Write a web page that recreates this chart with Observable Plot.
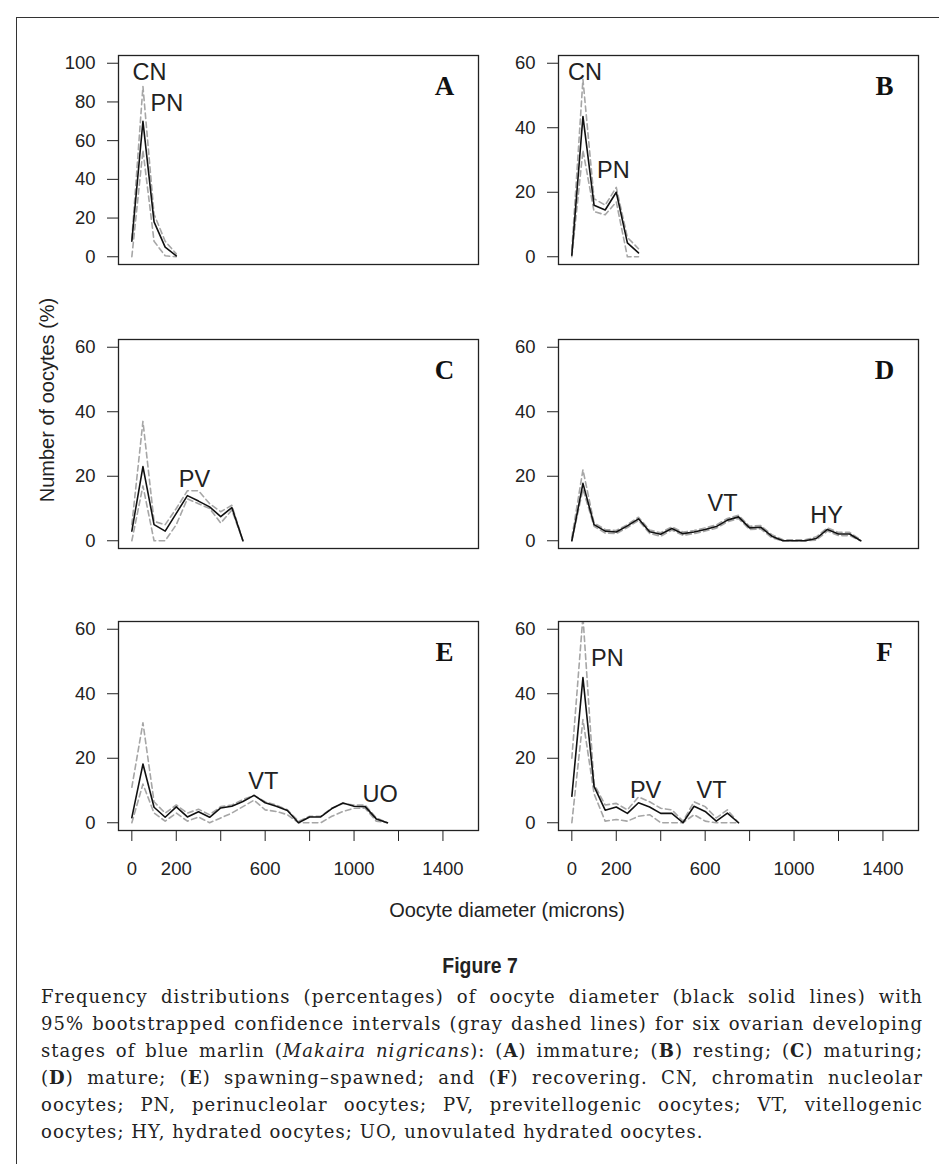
<!DOCTYPE html>
<html><head><meta charset="utf-8">
<script src="https://cdn.jsdelivr.net/npm/d3@7"></script>
<script src="https://cdn.jsdelivr.net/npm/@observablehq/plot@0.6"></script>
<style>
body{margin:0;background:#fff;}
#page{position:relative;width:939px;height:1164px;overflow:hidden;background:#fff;font-family:"Liberation Sans",Arial,sans-serif;color:#222;}
#box{position:absolute;left:16px;top:17px;width:940px;height:1160px;border-left:1.5px solid #333;border-top:1.5px solid #333;}
.panel{position:absolute;}
.ytitle{position:absolute;left:47px;top:400px;transform:translate(-50%,-50%) rotate(-90deg);font-size:20px;white-space:nowrap;}
.xtitle{position:absolute;left:507px;top:910px;transform:translate(-50%,-50%);font-size:20px;white-space:nowrap;}
.figtitle{position:absolute;left:480px;top:966px;transform:translate(-50%,-50%) scaleX(0.88);font-size:22px;font-weight:bold;white-space:nowrap;}
#caption{position:absolute;left:41px;top:983px;width:882px;font-family:"DejaVu Serif",serif;font-size:18px;letter-spacing:1.05px;color:#222;}
#caption div{height:27px;line-height:27px;white-space:nowrap;text-align:justify;text-align-last:justify;}
#caption div.last{text-align:left;text-align-last:left;}
</style></head><body>
<div id="page">
<div id="box"></div>
<div class="ytitle">Number of oocytes (%)</div>
<div class="xtitle">Oocyte diameter (microns)</div>
<div class="figtitle">Figure 7</div>
<div id="caption">
<div>Frequency distributions (percentages) of oocyte diameter (black solid lines) with</div>
<div>95% bootstrapped confidence intervals (gray dashed lines) for six ovarian developing</div>
<div>stages of blue marlin (<i>Makaira nigricans</i>): (<b>A</b>) immature; (<b>B</b>) resting; (<b>C</b>) maturing;</div>
<div>(<b>D</b>) mature; (<b>E</b>) spawning–spawned; and (<b>F</b>) recovering. CN, chromatin nucleolar</div>
<div>oocytes; PN, perinucleolar oocytes; PV, previtellogenic oocytes; VT, vitellogenic</div>
<div class="last">oocytes; HY, hydrated oocytes; UO, unovulated hydrated oocytes.</div>
</div>
</div>
<script>
// ---- data ----
const xTicks = [0, 200, 400, 600, 800, 1000, 1200, 1400];
const xTickLabels = [0, 200, 600, 1000, 1400];
const yTicksA = [0, 20, 40, 60, 80, 100];
const yTicks60 = [0, 20, 40, 60];

const xA = [0, 50, 100, 150, 200];
const meanA = [8, 70, 18, 5, 0.5];
const upperA = [9, 88, 22, 8, 1.5];
const lowerA = [0, 55, 8, 0.5, 0];
const labelsA = [{x: 79, y: 95, t: "CN"}, {x: 158, y: 79, t: "PN"}];

const xB = [0, 50, 100, 150, 200, 250, 300];
const meanB = [0.5, 43.5, 16, 14.5, 20, 4.3, 1.2];
const upperB = [2, 55, 18, 16, 21.5, 6, 2.5];
const lowerB = [0, 33, 14, 13, 17, 0, 0];
const labelsB = [{x: 59, y: 57, t: "CN"}, {x: 187, y: 26.6, t: "PN"}];

const xC = [0, 50, 100, 150, 200, 250, 300, 350, 400, 450, 500];
const meanC = [3, 23, 5, 3, 8.5, 14, 12.3, 10.5, 7.5, 10.3, 0];
const upperC = [5, 37, 6, 5, 10, 15.5, 15.5, 11.5, 9, 11, 0];
const lowerC = [0, 17, 0, 0, 5, 13, 11.5, 10, 5.5, 9.5, 0];
const labelsC = [{x: 282, y: 19, t: "PV"}];

const xD = [0, 50, 100, 150, 200, 250, 300, 350, 400, 450, 500, 550, 600, 650, 700, 750, 800, 850, 900, 950, 1000, 1050, 1100, 1150, 1200, 1250, 1300];
const meanD = [0, 17.8, 5, 3, 2.7, 4.6, 6.8, 2.8, 2, 3.8, 2.2, 2.7, 3.5, 4.4, 6.4, 7.4, 4, 4.2, 1.4, 0, 0, 0, 0.7, 3.5, 2.1, 2.1, 0];
const upperD = [1, 22, 5.5, 3.5, 3.2, 5, 7.3, 3.3, 2.5, 4.3, 2.7, 3.2, 4, 4.9, 6.9, 7.9, 4.5, 4.7, 1.9, 0.3, 0.3, 0.3, 1.2, 4, 2.6, 2.6, 0.3];
const lowerD = [0, 16, 4.5, 2.4, 2.2, 4.1, 6.3, 2.3, 1.4, 3.3, 1.7, 2.2, 3, 3.9, 5.9, 6.9, 3.5, 3.7, 0.9, 0, 0, 0, 0.2, 3, 1.6, 1.6, 0];
const labelsD = [{x: 678, y: 11.6, t: "VT"}, {x: 1146, y: 7.9, t: "HY"}];

const xE = [0, 50, 100, 150, 200, 250, 300, 350, 400, 450, 500, 550, 600, 650, 700, 750, 800, 850, 900, 950, 1000, 1050, 1100, 1150];
const meanE = [1.6, 18.2, 4.8, 1.7, 4.9, 1.8, 3.4, 1.7, 4.6, 5.1, 6.6, 8.5, 6.2, 5.1, 3.8, 0, 1.8, 1.8, 4.4, 6.1, 5.1, 5, 1.2, 0];
const upperE = [11, 31, 6.5, 3, 5.5, 3, 4.2, 2.5, 5, 5.5, 7.2, 8.5, 6.5, 5.5, 4, 0.5, 2, 2, 4.5, 6, 5.5, 5.5, 1.5, 0];
const lowerE = [0, 12, 3, 0.5, 3, 0.5, 1.8, 0, 1.5, 3, 5, 7, 4, 3.5, 2.5, 0, 0, 0, 2, 3.5, 4.5, 4.5, 0.5, 0];
const labelsE = [{x: 592, y: 12.8, t: "VT"}, {x: 1117, y: 8.7, t: "UO"}];

const xF = [0, 50, 100, 150, 200, 250, 300, 350, 400, 450, 500, 550, 600, 650, 700, 750];
const meanF = [8.2, 45, 11.3, 3.9, 4.9, 2.9, 6.2, 4.9, 2.9, 2.9, 0, 5.1, 3.5, 0.5, 3, 0];
const upperF = [20, 64, 12, 5.5, 6, 4, 8, 6.5, 4.5, 4, 0.5, 6.5, 5, 1.5, 4, 0];
const lowerF = [0, 32, 9, 0.5, 1, 0.5, 2, 2.5, 0, 0, 0, 2.5, 0.5, 0, 0, 0];
const labelsF = [{x: 160, y: 51, t: "PN"}, {x: 332, y: 10, t: "PV"}, {x: 629, y: 10, t: "VT"}];

const panels = [
  {id: "A", x: xA, mean: meanA, upper: upperA, lower: lowerA, yMax: 100, yTicks: yTicksA, labels: labelsA, col: 0, row: 0},
  {id: "B", x: xB, mean: meanB, upper: upperB, lower: lowerB, yMax: 60, yTicks: yTicks60, labels: labelsB, col: 1, row: 0},
  {id: "C", x: xC, mean: meanC, upper: upperC, lower: lowerC, yMax: 60, yTicks: yTicks60, labels: labelsC, col: 0, row: 1},
  {id: "D", x: xD, mean: meanD, upper: upperD, lower: lowerD, yMax: 60, yTicks: yTicks60, labels: labelsD, col: 1, row: 1},
  {id: "E", x: xE, mean: meanE, upper: upperE, lower: lowerE, yMax: 60, yTicks: yTicks60, labels: labelsE, col: 0, row: 2},
  {id: "F", x: xF, mean: meanF, upper: upperF, lower: lowerF, yMax: 60, yTicks: yTicks60, labels: labelsF, col: 1, row: 2}
];

// ---- layout ----
const colLeft = [118, 558];
const rowTop = [55, 339, 621];
const frameW = 360, frameH = 209;
const mL = 80, mR = 4, mT = 3;
const page = document.getElementById("page");

for (const p of panels) {
  const rows = p.x.map((d, i) => ({x: d, mean: p.mean[i], upper: p.upper[i], lower: p.lower[i]}));
  const bottom = p.row === 2;
  const mB = bottom ? 62 : 3;
  const marks = [
    Plot.line(rows, {x: "x", y: "upper", stroke: "#a6a6a6", strokeWidth: 1.6, strokeDasharray: "5.5,3.5", clip: true}),
    Plot.line(rows, {x: "x", y: "lower", stroke: "#a6a6a6", strokeWidth: 1.6, strokeDasharray: "5.5,3.5", clip: true}),
    Plot.line(rows, {x: "x", y: "mean", stroke: "#111", strokeWidth: 1.6, clip: true}),
    Plot.text(p.labels, {x: "x", y: "y", text: "t", fontSize: 23.5, fill: "#222"}),
    Plot.text([p.id], {frameAnchor: "top-right", dx: -34, dy: 31, textAnchor: "middle", lineAnchor: "middle",
      fontFamily: "Liberation Serif, serif", fontWeight: "bold", fontSize: 27, fill: "#111"}),
    Plot.frame({stroke: "#222", strokeWidth: 1.3}),
    Plot.axisY(p.yTicks, {tickSize: 11, tickPadding: 12, fontSize: 18.5, label: null})
  ];
  if (bottom) {
    marks.push(Plot.axisX(xTicks, {tickSize: 11, tickPadding: 20, fontSize: 18.5, label: null,
      tickFormat: d => xTickLabels.includes(d) ? String(d) : ""}));
  }
  const svg = Plot.plot({
    width: mL + frameW + mR,
    height: mT + frameH + mB,
    marginLeft: mL, marginRight: mR, marginTop: mT, marginBottom: mB,
    x: bottom ? {domain: [-60, 1560]} : {domain: [-60, 1560], axis: null},
    y: {domain: [-0.04 * p.yMax, 1.04 * p.yMax]},
    style: {fontFamily: "Liberation Sans, Arial, sans-serif", fontSize: "18px", color: "#222", background: "transparent", overflow: "visible"},
    marks
  });
  svg.classList.add("panel");
  svg.style.position = "absolute";
  svg.style.left = (colLeft[p.col] - mL) + "px";
  svg.style.top = (rowTop[p.row] - mT) + "px";
  page.appendChild(svg);
}
</script>
</body></html>
